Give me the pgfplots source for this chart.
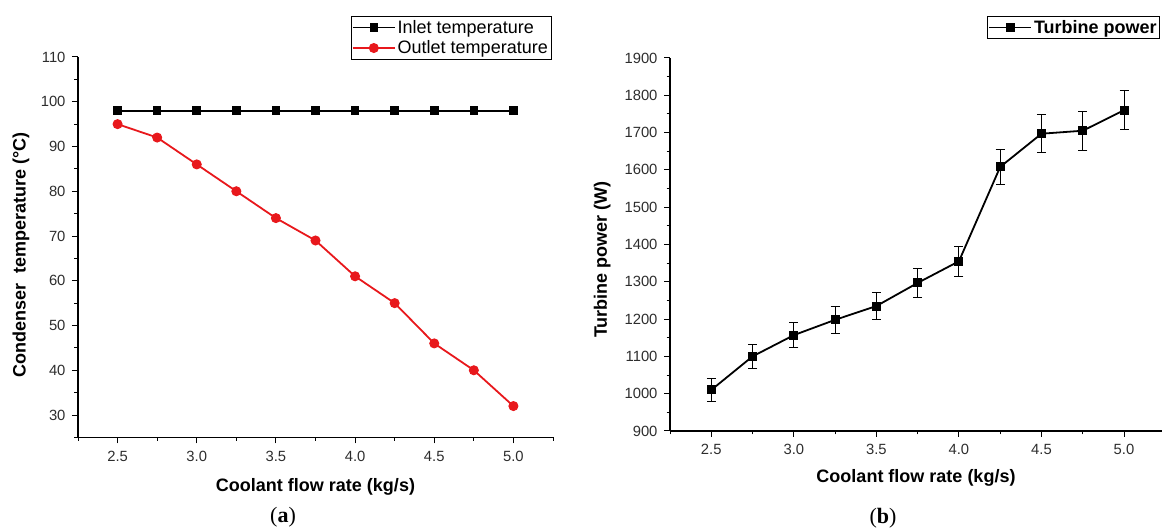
\documentclass[border=0pt]{standalone}
\usepackage{fontspec}
\setmainfont{Liberation Sans}
\newfontfamily\capfont{Liberation Serif}
\usepackage{pgfplots}
\pgfplotsset{compat=1.18}
\definecolor{myred}{RGB}{232,24,28}
\definecolor{tickgray}{RGB}{45,45,45}
\pgfplotsset{
  common/.style={
    scale only axis,
    anchor=south west,
    axis x line=bottom, axis y line=left,
    axis line style={line width=1.1pt, -},
    tick align=outside,
    major tick length=6pt, minor tick length=3.5pt,
    every tick/.style={line width=1pt, black},
    xtick={2.5,3,...,5},
    minor xtick={2.25,2.75,...,5.25},
    tick label style={font=\fontsize{14.8}{16}\selectfont, text=tickgray},
    /pgf/number format/assume math mode=true,
    xticklabel style={yshift=-4pt, /pgf/number format/.cd, fixed, fixed zerofill, precision=1, assume math mode=true},
    yticklabel style={xshift=-3pt, /pgf/number format/.cd, fixed, 1000 sep={}, assume math mode=true},
    label style={font=\fontsize{18}{20}\selectfont\bfseries},
    legend style={font=\fontsize{18}{20}\selectfont, draw=black, line width=0.6pt,
      inner xsep=1pt, inner ysep=1pt, nodes={inner xsep=2pt, inner ysep=3pt},
      anchor=north east},
    legend cell align=left,
    legend image code/.code={\draw[mark repeat=2,mark phase=2,##1] plot coordinates {(0pt,0pt)(21pt,0pt)(42pt,0pt)};},
    clip=false,
  }
}
\pgfplotstableread{
x y e
2.5 1010 30
2.75 1100 33
3.0 1157 34
3.25 1198 36
3.5 1235 37
3.75 1297 39
4.0 1355 40
4.25 1608 48
4.5 1697 51
4.75 1705 52
5.0 1760 53
}\powertable
\begin{document}
\begin{tikzpicture}
\useasboundingbox (0,0) rectangle (1163pt,529pt);
% (a)
\begin{axis}[common,
  at={(78pt,91.6pt)},
  width=475pt, height=380.4pt,
  xmin=2.25, xmax=5.25, ymin=25, ymax=110,
  ytick={30,40,...,110},
  minor ytick={25,35,...,105},
  xlabel={Coolant flow rate (kg/s)},
  ylabel={Condenser\ \ temperature (°C)},
  xlabel style={at={(axis description cs:0.5,-0.129)}, anchor=center},
  ylabel style={at={(axis description cs:-0.12,0.48)}, anchor=center},
  legend style={at={(axis description cs:0.996,1.108)}},
]
\addplot[black, line width=1.8pt, mark=square*, mark size=3.8pt, mark options={solid, line width=1pt}] coordinates {
(2.5,98) (2.75,98) (3.0,98) (3.25,98) (3.5,98) (3.75,98) (4.0,98) (4.25,98) (4.5,98) (4.75,98) (5.0,98)};
\addlegendentry{Inlet temperature}
\addplot[myred, line width=1.8pt, mark=*, mark size=4.5pt, mark options={solid, line width=1pt}] coordinates {
(2.5,95) (2.75,92) (3.0,86) (3.25,80) (3.5,74) (3.75,69) (4.0,61) (4.25,55) (4.5,46) (4.75,40) (5.0,32)};
\addlegendentry{Outlet temperature}
\end{axis}
% (b)
\begin{axis}[common,
  at={(670pt,98pt)},
  width=492pt, height=373pt,
  xmin=2.25, xmax=5.23, ymin=900, ymax=1900,
  ytick={900,1000,...,1900},
  minor ytick={950,1050,...,1850},
  xlabel={Coolant flow rate (kg/s)},
  ylabel={Turbine power (W)},
  xlabel style={at={(axis description cs:0.5,-0.126)}, anchor=center},
  ylabel style={at={(axis description cs:-0.138,0.46)}, anchor=center},
  legend style={at={(axis description cs:0.996,1.113)}, font=\fontsize{18}{20}\selectfont\bfseries},
]
\addplot[black, line width=1.8pt, mark=square*, mark size=4pt, mark options={solid, line width=1pt},
  error bars/.cd, y dir=both, y explicit,
  error bar style={line width=1pt},
  error mark options={rotate=90, mark size=4.5pt, line width=1pt}]
  table[x=x, y=y, y error=e] {\powertable};
\addlegendentry{Turbine power}
\end{axis}
\node[font=\capfont\fontsize{22}{24}\selectfont] at (283pt,12pt) {(\textbf{a})};
\node[font=\capfont\fontsize{22}{24}\selectfont] at (883pt,11pt) {(\textbf{b})};
\end{tikzpicture}
\end{document}
